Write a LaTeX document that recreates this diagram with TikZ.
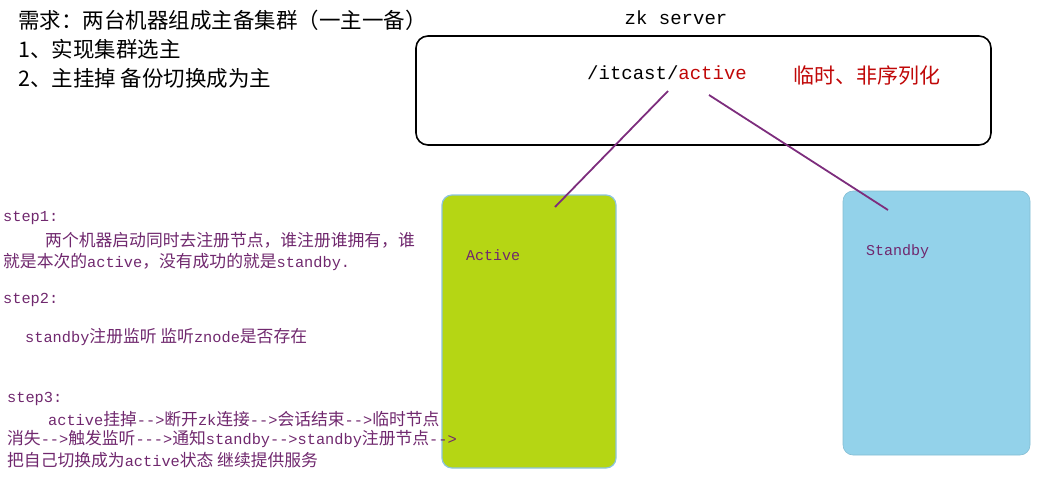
\documentclass[tikz,border=0pt]{standalone}
\usepackage{fontspec}
\setmainfont{Noto Sans CJK SC}
\setmonofont{Liberation Mono}
\usetikzlibrary{positioning}

\definecolor{notepurple}{RGB}{112,40,110}
\definecolor{linkpurple}{RGB}{125,45,125}
\definecolor{darkred}{RGB}{192,8,8}
\definecolor{activegreen}{RGB}{181,214,20}
\definecolor{standbyblue}{RGB}{147,210,234}
\definecolor{edgeblue}{RGB}{140,196,222}

% latin pieces inside the notes
\newcommand{\lat}[1]{{\ttfamily\fontsize{15.3}{18}\selectfont #1}}

\tikzset{
  head/.style={anchor=west, inner sep=0pt, font=\fontsize{21.5}{24}\selectfont},
  note/.style={anchor=west, inner sep=0pt, text=notepurple, font=\fontsize{16.8}{20}\selectfont},
  machine/.style={rounded corners=10pt, line width=1.2pt, inner sep=0pt},
  tag/.style={anchor=west, inner sep=0pt, text=notepurple, font=\ttfamily\fontsize{15}{18}\selectfont},
  link/.style={draw=linkpurple, line width=1.8pt}
}

\begin{document}
\begin{tikzpicture}[x=1pt,y=-1pt]
\useasboundingbox (0,0) rectangle (1057,496);

% requirements
\node[head] (req) at (18,20) {需求：两台机器组成主备集群（一主一备）};
\node[head] (req1) at (18,49) {1、实现集群选主};
\node[head] (req2) at (18,78) {2、主挂掉 备份切换成为主};

% zk server
\node[font=\ttfamily\fontsize{19}{22}\selectfont] (zktitle) at (676,18) {zk server};
\node[draw, rounded corners=12pt, line width=1.6pt, minimum width=575, minimum height=109] (zk) at (703.5,90.5) {};
\node[anchor=west, inner sep=0pt, font=\ttfamily\fontsize{19}{22}\selectfont] (znode) at (587,73) {/itcast/\textcolor{darkred}{active}};
\node[anchor=west, inner sep=0pt, text=darkred, font=\fontsize{21}{24}\selectfont] (zkind) at (793,76) {临时、非序列化};

% machines
\node[machine, fill=activegreen, draw=edgeblue, minimum width=174, minimum height=273] (act) at (529,331.5) {};
\node[tag] (actname) at (466,255) {Active};
\node[machine, fill=standbyblue, draw=standbyblue!90!black, line width=0.6pt, minimum width=187, minimum height=264] (sby) at (936.5,323) {};
\node[tag] (sbyname) at (866,252) {Standby};

% registrations
\coordinate (zkL) at (668,91);
\coordinate (zkR) at (709,95);
\coordinate (actin) at (555,207);
\coordinate (sbyin) at (888,210);
\draw[link] (zkL) -- (actin);
\draw[link] (zkR) -- (sbyin);

% steps
\node[note] (s1) at (3,218) {\lat{step1:}};
\node[note] (s1a) at (45,240) {两个机器启动同时去注册节点，谁注册谁拥有，谁};
\node[note] (s1b) at (3,262) {就是本次的\lat{active}，没有成功的就是\lat{standby.}};
\node[note] (s2) at (3,300) {\lat{step2:}};
\node[note] (s2a) at (25,337) {\lat{standby}注册监听 监听\lat{znode}是否存在};
\node[note] (s3) at (7,399) {\lat{step3:}};
\node[note] (s3a) at (48,419) {\lat{active}挂掉\lat{-->}断开\lat{zk}连接\lat{-->}会话结束\lat{-->}临时节点};
\node[note] (s3b) at (7,439) {消失\lat{-->}触发监听\lat{--->}通知\lat{standby-->standby}注册节点\lat{-->}};
\node[note] (s3c) at (7,460) {把自己切换成为\lat{active}状态 继续提供服务};

\end{tikzpicture}
\end{document}
